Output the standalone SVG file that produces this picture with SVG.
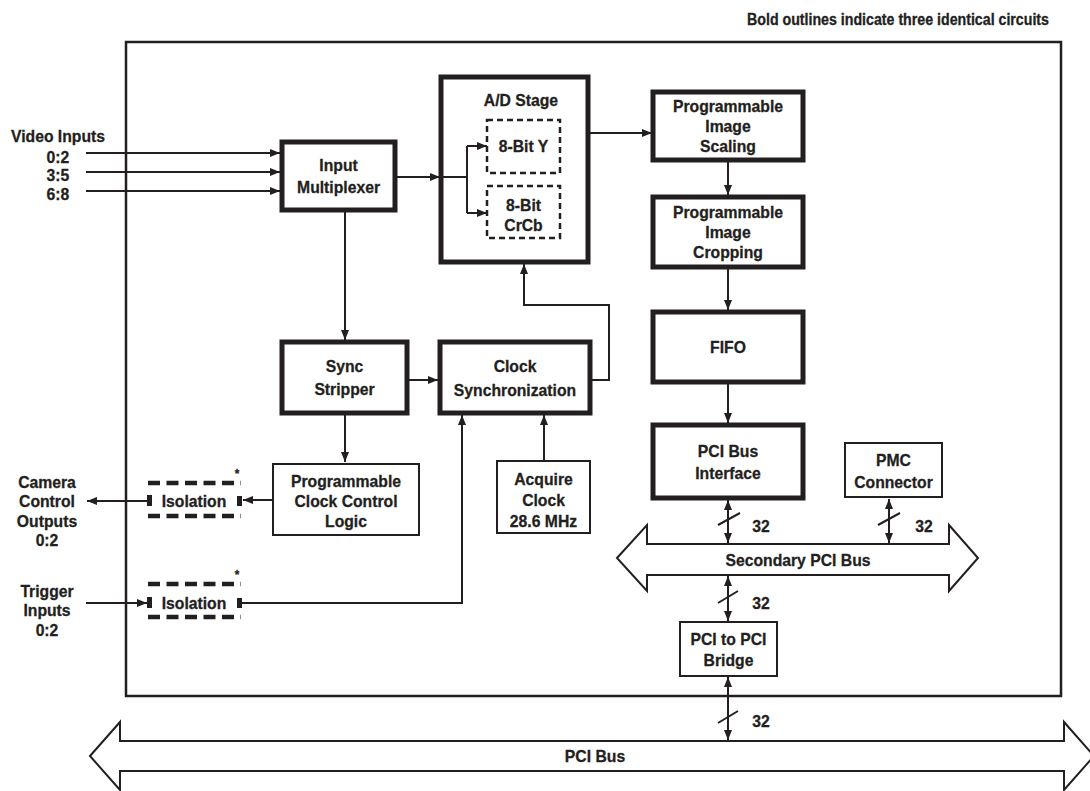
<svg xmlns="http://www.w3.org/2000/svg" width="1090" height="791" viewBox="0 0 1090 791">
<style>
text{font-family:"Liberation Sans",Arial,sans-serif;font-weight:bold;font-size:17.3px;fill:#231f20;stroke:#231f20;stroke-width:0.3;text-anchor:middle;transform-box:fill-box;transform-origin:center;transform:scaleX(0.91)}
text.title{font-size:15.6px;text-anchor:end;transform-origin:right center}
text.ast{font-size:13px}
.thick{fill:#fff;stroke:#231f20;stroke-width:5}
.thin{fill:#fff;stroke:#231f20;stroke-width:2}
.dash{fill:none;stroke:#231f20;stroke-width:2.5;stroke-dasharray:6 4}
.isoln{fill:none;stroke:#231f20;stroke-width:4.5;stroke-dasharray:12 6.5}
.isob{fill:#231f20}
.ln{fill:none;stroke:#231f20;stroke-width:2}
.bus{fill:#fff;stroke:#231f20;stroke-width:2}
</style>
<defs>
<marker id="ah" markerWidth="10" markerHeight="8" refX="10" refY="4" orient="auto" markerUnits="userSpaceOnUse"><path d="M0,0 L10,4 L0,8 z" fill="#231f20"/></marker>
<marker id="as" markerWidth="10" markerHeight="8" refX="0" refY="4" orient="auto" markerUnits="userSpaceOnUse"><path d="M10,0 L0,4 L10,8 z" fill="#231f20"/></marker>
</defs>
<text class="title" x="1049" y="25">Bold outlines indicate three identical circuits</text>
<rect id="frame" x="126" y="42" width="935" height="654" fill="none" stroke="#231f20" stroke-width="2.5"/>
<g id="buses">
<g id="pci-bus"><polygon class="bus" points="90,756 120,722 120,741 1064,741 1064,722 1094,756 1064,790 1064,771 120,771 120,790"/><text x="595" y="762">PCI Bus</text></g>
<g id="secondary-bus"><polygon class="bus" points="617,558 647,525 647,544 949,544 949,525 978,558 949,591 949,575 647,575 647,591"/><text x="798" y="566">Secondary PCI Bus</text></g>
</g>
<g id="labels">
<text x="58" y="142">Video Inputs</text><text x="58" y="163">0:2</text><text x="58" y="181">3:5</text><text x="58" y="200">6:8</text>
<text x="47" y="488">Camera</text><text x="47" y="507.5">Control</text><text x="47" y="527">Outputs</text><text x="47" y="546.5">0:2</text>
<text x="47" y="597">Trigger</text><text x="47" y="616.5">Inputs</text><text x="47" y="636">0:2</text>
</g>
<g id="mux"><rect class="thick" x="282" y="142" width="113" height="68"/><text x="338.5" y="171">Input</text><text x="338.5" y="193">Multiplexer</text></g>
<g id="ad"><rect class="thick" x="441" y="77" width="147" height="185"/><text x="521" y="106">A/D Stage</text>
<rect class="dash" x="487" y="120" width="73" height="53"/><text x="523.5" y="152">8-Bit Y</text>
<rect class="dash" x="487" y="186" width="73" height="52"/><text x="523.5" y="211">8-Bit</text><text x="523.5" y="231">CrCb</text></g>
<g id="sync"><rect class="thick" x="282" y="342" width="125" height="71"/><text x="344.5" y="372">Sync</text><text x="344.5" y="395">Stripper</text></g>
<g id="clocksync"><rect class="thick" x="440" y="342" width="150" height="71"/><text x="515" y="372">Clock</text><text x="515" y="396">Synchronization</text></g>
<g id="pccl"><rect class="thin" x="273" y="464" width="146" height="71"/><text x="346" y="487">Programmable</text><text x="346" y="507">Clock Control</text><text x="346" y="527">Logic</text></g>
<g id="acquire"><rect class="thin" x="497" y="461" width="93" height="72"/><text x="543.5" y="485">Acquire</text><text x="543.5" y="506">Clock</text><text x="543.5" y="527">28.6 MHz</text></g>
<g id="iso1"><path class="isoln" d="M148,483H241M148,516H241"/><rect class="isob" x="147" y="495" width="5" height="11"/><rect class="isob" x="237" y="496" width="5" height="10"/><text x="194" y="507">Isolation</text><text class="ast" x="237" y="478">*</text></g>
<g id="iso2"><path class="isoln" d="M148,584H241M148,617H241"/><rect class="isob" x="147" y="597" width="5" height="11"/><rect class="isob" x="237" y="598" width="5" height="10"/><text x="194" y="609">Isolation</text><text class="ast" x="237" y="579">*</text></g>
<g id="scaling"><rect class="thick" x="653" y="92" width="150" height="68"/><text x="728" y="112">Programmable</text><text x="728" y="132">Image</text><text x="728" y="152">Scaling</text></g>
<g id="cropping"><rect class="thick" x="653" y="197" width="150" height="70"/><text x="728" y="218">Programmable</text><text x="728" y="238">Image</text><text x="728" y="258">Cropping</text></g>
<g id="fifo"><rect class="thick" x="653" y="312" width="150" height="70"/><text x="728" y="353">FIFO</text></g>
<g id="pcibi"><rect class="thick" x="653" y="425" width="150" height="73"/><text x="728" y="457">PCI Bus</text><text x="728" y="479">Interface</text></g>
<g id="pmc"><rect class="thin" x="845" y="443" width="97" height="54"/><text x="893.5" y="466">PMC</text><text x="893.5" y="488">Connector</text></g>
<g id="bridge"><rect class="thin" x="680" y="622" width="97" height="54"/><text x="728.5" y="645">PCI to PCI</text><text x="728.5" y="666">Bridge</text></g>
<g id="connectors">
<path class="ln" d="M86,153H280" marker-end="url(#ah)"/>
<path class="ln" d="M86,172H280" marker-end="url(#ah)"/>
<path class="ln" d="M86,191H280" marker-end="url(#ah)"/>
<path class="ln" d="M395,177H440" marker-end="url(#ah)"/>
<path class="ln" d="M441,177H467"/>
<path class="ln" d="M467,146V213"/>
<path class="ln" d="M467,146H487" marker-end="url(#ah)"/>
<path class="ln" d="M467,213H487" marker-end="url(#ah)"/>
<path class="ln" d="M588,133H652" marker-end="url(#ah)"/>
<path class="ln" d="M728,160V195" marker-end="url(#ah)"/>
<path class="ln" d="M728,267V310" marker-end="url(#ah)"/>
<path class="ln" d="M728,382V423" marker-end="url(#ah)"/>
<path class="ln" d="M345,210V340" marker-end="url(#ah)"/>
<path class="ln" d="M407,380H438" marker-end="url(#ah)"/>
<path class="ln" d="M590,380H609V305H524V264" marker-end="url(#ah)"/>
<path class="ln" d="M345,413V462" marker-end="url(#ah)"/>
<path class="ln" d="M273,500H243" marker-end="url(#ah)"/>
<path class="ln" d="M147,501H87" marker-end="url(#ah)"/>
<path class="ln" d="M86,603H147" marker-end="url(#ah)"/>
<path class="ln" d="M242,603H462V415" marker-end="url(#ah)"/>
<path class="ln" d="M544,461V415" marker-end="url(#ah)"/>
<path class="ln" d="M728,500V543" marker-start="url(#as)" marker-end="url(#ah)"/>
<path class="ln" d="M718,525L740,513"/><text x="761" y="532">32</text>
<path class="ln" d="M889,499V543" marker-start="url(#as)" marker-end="url(#ah)"/>
<path class="ln" d="M878,525L900,513"/><text x="924" y="532">32</text>
<path class="ln" d="M728,576V621" marker-start="url(#as)" marker-end="url(#ah)"/>
<path class="ln" d="M718,603L738,591"/><text x="761" y="609">32</text>
<path class="ln" d="M728,677V740" marker-start="url(#as)" marker-end="url(#ah)"/>
<path class="ln" d="M718,723L738,711"/><text x="761" y="727">32</text>
</g>
</svg>
